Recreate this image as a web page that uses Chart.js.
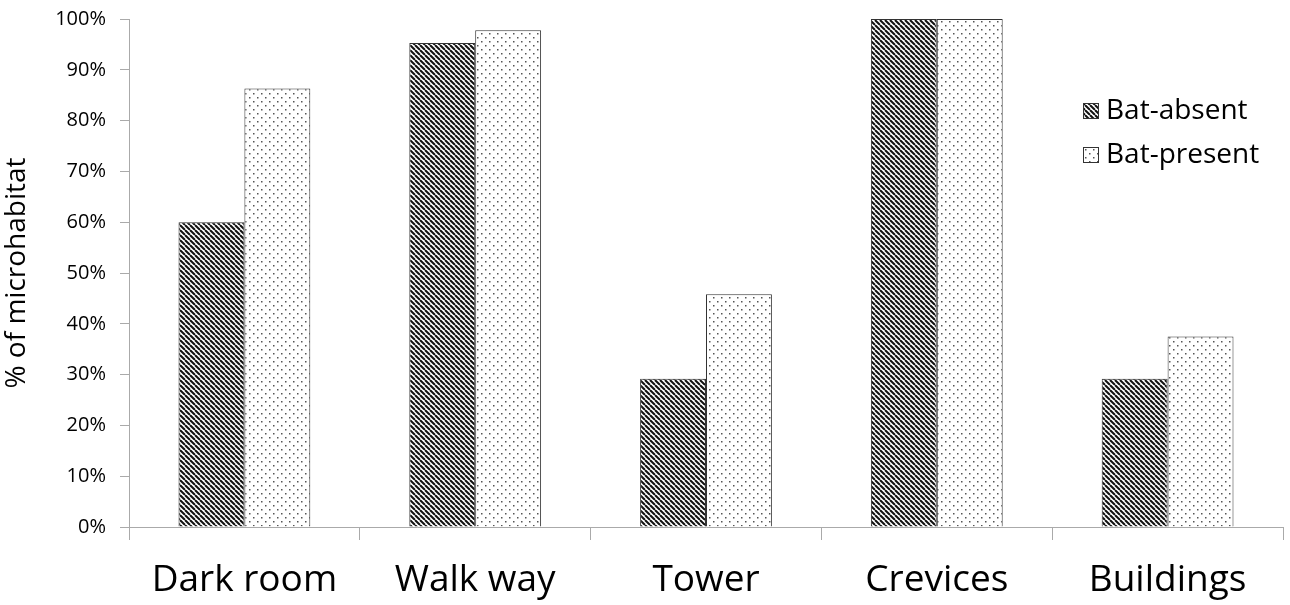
<!DOCTYPE html>
<html>
<head>
<meta charset="utf-8">
<script src="https://cdn.jsdelivr.net/npm/chart.js@4/dist/chart.umd.min.js"></script>
<style>
  html, body { margin: 0; padding: 0; background: #fff; }
  #wrap { width: 1290px; height: 605px; }
</style>
</head>
<body>
<div id="wrap"><canvas id="chart" width="1290" height="605"></canvas></div>
<script>
// Microhabitat use by site type
const categories = ['Dark room', 'Walk way', 'Tower', 'Crevices', 'Buildings'];
const batAbsent = [60.0, 95.3, 29.2, 100, 29.2];
const batPresent = [86.3, 97.8, 45.8, 100, 37.5];
const seriesNames = ['Bat-absent', 'Bat-present'];

const FONT = '"Open Sans", "Noto Sans", sans-serif';

// diagonal hatch fill (top-left to bottom-right)
const makeHatch = () => {
    const s = 5;
    const c = document.createElement('canvas');
    c.width = s; c.height = s;
    const g = c.getContext('2d');
    g.fillStyle = '#fff';
    g.fillRect(0, 0, s, s);
    g.strokeStyle = '#111';
    g.lineWidth = 2;
    [-s, 0, s].forEach(x => {
        g.beginPath();
        g.moveTo(x, 0);
        g.lineTo(x + s, s);
        g.stroke();
    });
    return g.createPattern(c, 'repeat');
};

// sparse staggered dots
const makeDots = () => {
    const s = 8;
    const c = document.createElement('canvas');
    c.width = s; c.height = s;
    const g = c.getContext('2d');
    g.fillStyle = '#fff';
    g.fillRect(0, 0, s, s);
    g.fillStyle = '#555';
    g.fillRect(1, 1, 1.5, 1.5);
    g.fillRect(5, 5, 1.5, 1.5);
    return g.createPattern(c, 'repeat');
};

const hatch = makeHatch();
const dots = makeDots();

// legend drawn inside the plot area
const innerLegend = {
    id: 'innerLegend',
    afterDraw(chart) {
        const ctx = chart.ctx;
        const fills = [hatch, dots];
        ctx.save();
        ctx.font = '28px ' + FONT;
        ctx.textBaseline = 'middle';
        seriesNames.forEach((name, i) => {
            const y = 111 + i * 44;
            ctx.fillStyle = fills[i];
            ctx.fillRect(1083, y - 8, 15, 15);
            ctx.strokeStyle = '#333';
            ctx.lineWidth = 1;
            ctx.strokeRect(1083.5, y - 7.5, 15, 15);
            ctx.fillStyle = '#000';
            ctx.fillText(name, 1106, y);
        });
        ctx.restore();
    }
};

new Chart(document.getElementById('chart'), {
    type: 'bar',
    data: {
        labels: categories,
        datasets: [
            { label: seriesNames[0], data: batAbsent, backgroundColor: hatch, borderColor: '#333', borderWidth: 1 },
            { label: seriesNames[1], data: batPresent, backgroundColor: dots, borderColor: '#333', borderWidth: 1 }
        ]
    },
    options: {
        responsive: false,
        animation: false,
        layout: { padding: { top: 19, right: 7, left: 0, bottom: 0 } },
        datasets: { bar: { categoryPercentage: 0.571, barPercentage: 1 } },
        plugins: { legend: { display: false }, tooltip: { enabled: false } },
        scales: {
            x: {
                grid: { offset: true, drawOnChartArea: false, color: '#aaa', tickLength: 13 },
                border: { color: '#aaa' },
                ticks: { color: '#000', font: { family: FONT, size: 37 }, padding: 18 },
                afterFit(scale) { scale.height = 78; }
            },
            y: {
                min: 0, max: 100,
                grid: { drawOnChartArea: false, color: '#aaa', tickLength: 9 },
                border: { color: '#aaa' },
                ticks: {
                    stepSize: 10, color: '#000', padding: 14,
                    font: { family: FONT, size: 20 },
                    callback: v => v + '%'
                },
                title: {
                    display: true, text: '% of microhabitat', color: '#000',
                    font: { family: FONT, size: 28 }, padding: 0
                },
                afterFit(scale) {
                    scale.width = 129;
                    // keep the plot top fixed by the layout padding alone
                    scale.paddingTop = 0;
                    scale.paddingBottom = 0;
                }
            }
        }
    },
    plugins: [innerLegend]
});
</script>
</body>
</html>
